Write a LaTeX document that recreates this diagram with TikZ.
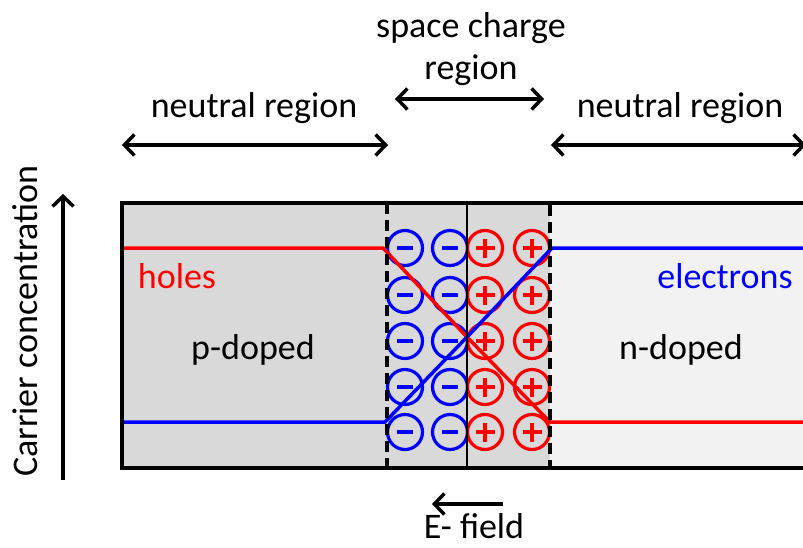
\documentclass[tikz,border=0pt]{standalone}
\usepackage{fontspec}
\setmainfont{Carlito}
\usetikzlibrary{arrows.meta}
\definecolor{pgray}{RGB}{217,217,217}
\definecolor{ngray}{RGB}{242,242,242}
\begin{document}
\begin{tikzpicture}[x=1pt,y=-1pt,
  lbl/.style={font=\fontsize{36}{43}\selectfont, inner sep=0pt, anchor=base},
  barb/.tip={Straight Barb[length=10pt,width=21pt,line width=3.5pt]},
  dbl/.style={line width=3.5pt, barb-barb},
  sgl/.style={line width=3.5pt, -barb},
  negion/.style={circle, draw=blue, line width=3.2pt, minimum size=35pt, inner sep=0pt},
  posion/.style={circle, draw=red, line width=3.2pt, minimum size=35pt, inner sep=0pt},
  carrier/.style={line width=3.5pt, line join=miter}
]
\useasboundingbox (0,0) rectangle (803,547);
\clip (0,0) rectangle (803,547);

% regions of the junction
\fill[pgray] (122,203) rectangle (387,468);
\fill[pgray] (387,203) rectangle (550,468);
\fill[ngray] (550,203) rectangle (820,468);

% charged ions in the space charge region
\foreach \r [count=\i] in {248,295,341,387,432} {
  \foreach \c [count=\j] in {405,450} {
    \node[negion] (m\i\j) at (\c,\r) {};
    \draw[blue, line width=3.5pt] ([xshift=-8pt]m\i\j.center) -- ([xshift=8pt]m\i\j.center);
  }
  \foreach \c [count=\j] in {485,532} {
    \node[posion] (p\i\j) at (\c,\r) {};
    \draw[red, line width=3.5pt] ([xshift=-9.5pt]p\i\j.center) -- ([xshift=9.5pt]p\i\j.center)
      ([yshift=-9.5pt]p\i\j.center) -- ([yshift=9.5pt]p\i\j.center);
  }
}

% carrier concentration profiles
\coordinate (hA) at (122,248);
\coordinate (hB) at (383,248);
\coordinate (xC) at (467,337);
\coordinate (hD) at (550,422);
\coordinate (hE) at (820,422);
\coordinate (eA) at (122,422);
\coordinate (eB) at (385,422);
\coordinate (eD) at (552,248);
\coordinate (eE) at (820,248);
\draw[carrier, red] (hA) -- (hB) -- (xC) -- (hD) -- (hE);
\draw[carrier, blue] (eA) -- (eB) -- (xC) -- (eD) -- (eE);

% space charge boundaries and metallurgical junction
\draw[line width=2pt] (467,203) -- (467,468);
\draw[line width=3.5pt, dash pattern=on 11pt off 6pt] (387,203) rectangle (550,468);
\draw[line width=3.5pt] (820,203) -- (122,203) -- (122,468) -- (820,468);

% labels
\node[lbl] (scr1) at (471,37) {space charge};
\node[lbl] (scr2) at (471,79) {region};
\node[lbl] (nl) at (254,117) {neutral region};
\node[lbl] (nr) at (680,117) {neutral region};
\node[lbl, text=red] (holes) at (177,288) {holes};
\node[lbl, text=blue] (elec) at (725,288) {electrons};
\node[lbl] (pd) at (253,359) {p-doped};
\node[lbl] (nd) at (681,359) {n-doped};
\node[lbl] (ef) at (474,538) {E- field};
\node[lbl, rotate=90] (cc) at (37,321) {Carrier concentration};

% width arrows
\coordinate (s1) at (395,99);
\coordinate (s2) at (544,99);
\coordinate (l1) at (122,145);
\coordinate (l2) at (388,145);
\coordinate (r1) at (551,145);
\coordinate (r2) at (806,145);
\coordinate (e1) at (503,504);
\coordinate (e2) at (432,504);
\coordinate (c1) at (63,480);
\coordinate (c2) at (63,194);
\draw[dbl] (s1) -- (s2);
\draw[dbl] (l1) -- (l2);
\draw[dbl] (r1) -- (r2);
\draw[sgl] (e1) -- (e2);
\draw[sgl] (c1) -- (c2);
\end{tikzpicture}
\end{document}
